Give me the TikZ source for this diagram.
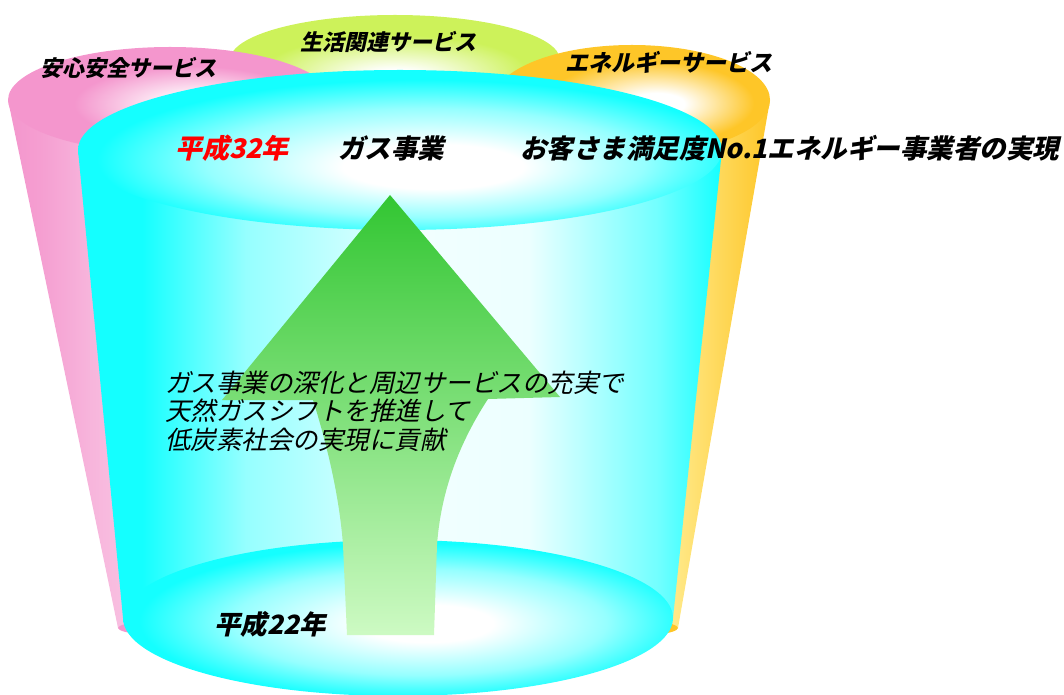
\documentclass[tikz,border=0pt]{standalone}
\usepackage{fontspec}
\newfontfamily\jp[FakeSlant=0.22]{Noto Sans CJK JP}
\definecolor{cy}{RGB}{20,255,255}
\definecolor{pk}{RGB}{244,150,205}
\definecolor{gy}{RGB}{205,242,90}
\definecolor{og}{RGB}{254,198,40}
\definecolor{ogl}{RGB}{255,238,150}
\definecolor{arrtop}{RGB}{50,198,50}
\definecolor{arrbot}{RGB}{205,250,195}
\definecolor{redtxt}{RGB}{255,0,0}
\pgfdeclarehorizontalshading{cyanbody}{100bp}{color(0bp)=(cy); color(25bp)=(cy); color(30bp)=(cy); color(38bp)=(cy!45!white); color(52bp)=(cy!6!white); color(60bp)=(cy!8!white); color(70bp)=(cy!60!white); color(75bp)=(cy); color(100bp)=(cy)}
\pgfdeclarehorizontalshading{pinkbody}{100bp}{color(0bp)=(pk); color(25bp)=(pk); color(30bp)=(pk!92!white); color(38bp)=(pk!70!white); color(75bp)=(white); color(100bp)=(white)}
\pgfdeclarehorizontalshading{orangebody}{100bp}{color(0bp)=(og); color(25bp)=(og); color(55bp)=(ogl); color(64bp)=(ogl!55!og); color(75bp)=(og); color(100bp)=(og)}
\pgfdeclareradialshading{cyantop}{\pgfpoint{3bp}{-6bp}}{color(0bp)=(white); color(7bp)=(white); color(17bp)=(cy!45!white); color(25bp)=(cy); color(50bp)=(cy)}
\pgfdeclareradialshading{cyanbot}{\pgfpoint{3bp}{-2bp}}{color(0bp)=(white); color(6bp)=(white); color(17bp)=(cy!45!white); color(25bp)=(cy); color(50bp)=(cy)}
\pgfdeclareradialshading{pinktop}{\pgfpoint{5bp}{-3bp}}{color(0bp)=(white); color(4bp)=(white); color(18bp)=(pk); color(25bp)=(pk); color(50bp)=(pk)}
\pgfdeclareradialshading{greentop}{\pgfpoint{0bp}{-10bp}}{color(0bp)=(white); color(4bp)=(white); color(20bp)=(gy); color(25bp)=(gy); color(50bp)=(gy)}
\pgfdeclareradialshading{orangetop}{\pgfpoint{5bp}{-2bp}}{color(0bp)=(white); color(5bp)=(white); color(19bp)=(og); color(25bp)=(og); color(50bp)=(og)}
\begin{document}
\begin{tikzpicture}[x=1pt,y=1pt,
  lbl/.style={inner sep=0pt, font=\jp\bfseries\fontsize{22}{25}\selectfont},
  big/.style={inner sep=0pt, font=\jp\bfseries\fontsize{26.5}{30}\selectfont},
  bodytxt/.style={inner sep=0pt, anchor=west, font=\jp\fontsize{25.5}{29}\selectfont}]
\useasboundingbox (0,0) rectangle (1064,694);
% green cup (back)
\shade[shading=greentop] (395,634) ellipse [x radius=165, y radius=45];
% pink cup
\shade[shading=pinkbody] (8,594) -- (118,66) -- (302,66) -- (332,594) -- cycle;
\fill[pk] (210,66) ellipse [x radius=92, y radius=10];
\shade[shading=pinktop] (170,594) ellipse [x radius=162, y radius=53];
% orange cup
\shade[shading=orangebody] (494,594) -- (522,66) -- (678,66) -- (770,594) -- cycle;
\fill[og] (600,66) ellipse [x radius=78, y radius=10];
\shade[shading=orangetop] (632,594) ellipse [x radius=138, y radius=55];
% cyan cup (front)
\shade[shading=cyanbody] (78,544) -- (123,76) -- (673,76) -- (722,544) -- cycle;
\shade[shading=cyanbot] (398,76) ellipse [x radius=275, y radius=78];
\shade[shading=cyantop] (400,544) ellipse [x radius=322, y radius=80];
% arrow
\shade[top color=arrtop, bottom color=arrbot]
  (390,499) -- (560,297) -- (488,295)
  .. controls (452,240) and (440,190) .. (437,149)
  -- (434,59) -- (347,59) -- (343,149)
  .. controls (340,190) and (330,240) .. (313,294)
  -- (222,294) -- cycle;
% labels
\node[lbl] (t1) at (128,626) {安心安全サービス};
\node[lbl] (t2) at (388,652) {生活関連サービス};
\node[lbl, font=\jp\bfseries\fontsize{23}{26}\selectfont] (t3) at (669,632) {エネルギーサービス};
\node[big, text=redtxt, font=\jp\bfseries\fontsize{27}{30}\selectfont] (y32) at (232,546) {平成32年};
\node[big] (gas) at (391,546) {ガス事業};
\node[big, anchor=west] (goal) at (520,546) {お客さま満足度No.1エネルギー事業者の実現};
\node[bodytxt] (l1) at (165,311) {ガス事業の深化と周辺サービスの充実で};
\node[bodytxt] (l2) at (165,283) {天然ガスシフトを推進して};
\node[bodytxt] (l3) at (165,254) {低炭素社会の実現に貢献};
\node[big] (y22) at (270,70) {平成22年};
\end{tikzpicture}
\end{document}
